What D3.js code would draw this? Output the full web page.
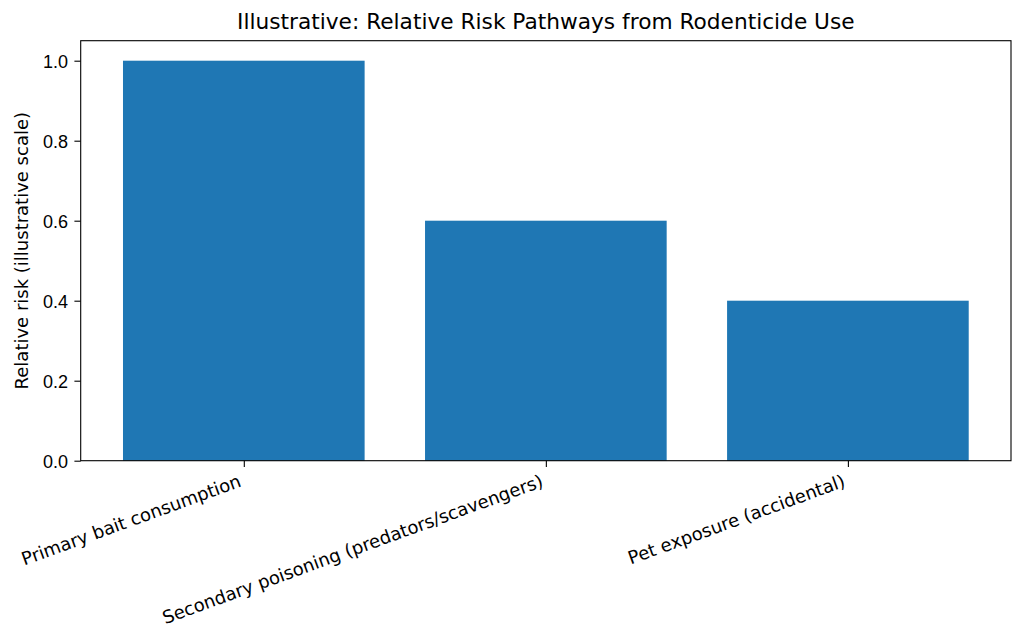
<!DOCTYPE html>
<html>
<head>
<meta charset="utf-8">
<script src="https://cdn.jsdelivr.net/npm/d3@7"></script>
<style>
  html, body { margin: 0; padding: 0; background: #fff; }
  svg { display: block; font-family: "DejaVu Sans", sans-serif; }
</style>
</head>
<body>
<svg id="chart" width="1024" height="644"></svg>
<script>
// Data
const categories = [
  "Primary bait consumption",
  "Secondary poisoning (predators/scavengers)",
  "Pet exposure (accidental)"
];
const riskValues = [1.0, 0.6, 0.4];
const yTicks = [0.0, 0.2, 0.4, 0.6, 0.8, 1.0];

const titleText = "Illustrative: Relative Risk Pathways from Rodenticide Use";
const yLabelText = "Relative risk (illustrative scale)";

// Layout
const width = 1024, height = 644;
const margin = { left: 80.7, right: 13, top: 40.7, bottom: 183.3 };
const plotW = width - margin.left - margin.right;
const plotH = height - margin.top - margin.bottom;
const barColor = "#1f77b4";
const tickLen = 6.3, tickPad = 6.3, fontSize = 18, titleSize = 21.7;

const svg = d3.select("#chart");
const main = svg.append("g").attr("transform", `translate(${margin.left},${margin.top})`);

// Scales (matplotlib-like: bar width 0.8, 5% margins)
const n = categories.length;
const xLo = -0.4, xHi = n - 1 + 0.4, xPad = (xHi - xLo) * 0.05;
const x = d3.scaleLinear().domain([xLo - xPad, xHi + xPad]).range([0, plotW]);
const yMax = d3.max(riskValues) * 1.05;
const y = d3.scaleLinear().domain([0, yMax]).range([plotH, 0]);

// Bars
main.selectAll("rect.bar")
  .data(riskValues)
  .join("rect")
  .attr("class", "bar")
  .attr("x", (d, i) => x(i - 0.4))
  .attr("width", (d, i) => x(i + 0.4) - x(i - 0.4))
  .attr("y", d => y(d))
  .attr("height", d => y(0) - y(d))
  .attr("fill", barColor);

// Y axis
const yAxis = d3.axisLeft(y)
  .tickValues(yTicks)
  .tickFormat(d3.format(".1f"))
  .tickSize(tickLen)
  .tickPadding(tickPad);
const gy = main.append("g").call(yAxis);
gy.select(".domain").remove();
gy.selectAll("line").attr("stroke", "#000").attr("stroke-width", 1.1);
gy.selectAll("text")
  .attr("fill", "#000")
  .style("font-size", `${fontSize}px`)
  .attr("dy", "0.35em");

// X axis ticks
const xAxis = d3.axisBottom(x)
  .tickValues(d3.range(n))
  .tickFormat("")
  .tickSize(tickLen);
const gx = main.append("g").attr("transform", `translate(0,${plotH})`).call(xAxis);
gx.select(".domain").remove();
gx.selectAll("line").attr("stroke", "#000").attr("stroke-width", 1.1);

// Rotated tick labels (ha='right', rotation 20)
const rot = 20 * Math.PI / 180;
const ascent = 0.76 * fontSize, descent = 0.24 * fontSize;
categories.forEach((label, i) => {
  const ax = x(i) - descent * Math.sin(rot);
  const ay = plotH + tickLen + tickPad + ascent * Math.cos(rot);
  main.append("text")
    .attr("x", ax)
    .attr("y", ay)
    .attr("text-anchor", "end")
    .attr("transform", `rotate(-20, ${ax}, ${ay})`)
    .style("font-size", `${fontSize}px`)
    .attr("fill", "#000")
    .text(label);
});

// Frame
main.append("rect")
  .attr("width", plotW)
  .attr("height", plotH)
  .attr("fill", "none")
  .attr("stroke", "#000")
  .attr("stroke-width", 1.1);

// Title
svg.append("text")
  .attr("x", margin.left + plotW / 2)
  .attr("y", 29)
  .attr("text-anchor", "middle")
  .style("font-size", `${titleSize}px`)
  .attr("fill", "#000")
  .text(titleText);

// Y label
svg.append("text")
  .attr("transform", `translate(28,${margin.top + plotH / 2}) rotate(-90)`)
  .attr("text-anchor", "middle")
  .style("font-size", `${fontSize}px`)
  .attr("fill", "#000")
  .text(yLabelText);
</script>
</body>
</html>
